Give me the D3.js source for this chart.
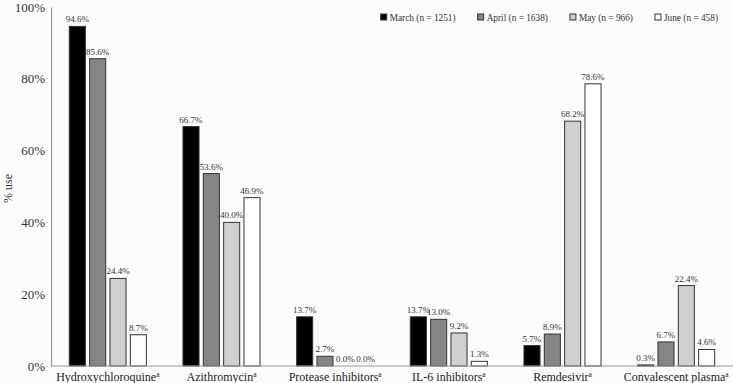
<!DOCTYPE html>
<html>
<head>
<meta charset="utf-8">
<script src="https://cdn.jsdelivr.net/npm/d3@7"></script>
<style>
  body { margin: 0; background: #fcfcfc; }
  svg, svg text { font-family: 'Liberation Serif', 'Times New Roman', Times, serif; }
</style>
</head>
<body>
<svg id="chart" width="733" height="383"></svg>
<script>
// Drug use by month, % of patients
var drugs = ['Hydroxychloroquine', 'Azithromycin', 'Protease inhibitors', 'IL-6 inhibitors', 'Remdesivir', 'Convalescent plasma'];
var months = ['March (n = 1251)', 'April (n = 1638)', 'May (n = 966)', 'June (n = 458)'];
var march = [94.6, 66.7, 13.7, 13.7, 5.7, 0.3];
var april = [85.6, 53.6, 2.7, 13.0, 8.9, 6.7];
var may = [24.4, 40.0, 0.0, 9.2, 68.2, 22.4];
var june = [8.7, 46.9, 0.0, 1.3, 78.6, 4.6];
var yTicks = [0, 20, 40, 60, 80, 100];

var series = [march, april, may, june];
var fills = ['#000000', '#858585', '#d0d0d0', '#ffffff'];

var svg = d3.select('#chart');
var margin = { left: 51, right: 0, top: 7, bottom: 17 };
var W = 733, H = 383;

svg.append('rect').attr('width', W).attr('height', H).attr('fill', '#fcfcfc');

var x0 = d3.scaleBand()
    .domain(drugs)
    .range([margin.left, W - margin.right])
    .paddingInner(0);

var x1 = d3.scaleBand()
    .domain(d3.range(months.length))
    .range([0, x0.bandwidth()])
    .paddingInner(0.21)
    .paddingOuter(0.9);

var y = d3.scaleLinear()
    .domain([0, 100])
    .range([H - margin.bottom, margin.top]);

// y axis
var yAxis = svg.append('g')
    .attr('transform', 'translate(' + margin.left + ',0)')
    .call(d3.axisLeft(y).tickValues(yTicks).tickSize(0).tickPadding(6).tickFormat(function (d) { return d + '%'; }));
yAxis.attr('font-family', null);
yAxis.select('.domain').attr('stroke', '#999').attr('stroke-width', 1.2);
yAxis.selectAll('text')
    .attr('font-size', 13)
    .attr('fill', '#333');

svg.append('text')
    .attr('transform', 'translate(12,' + (y(50) + 2) + ') rotate(-90)')
    .attr('text-anchor', 'middle')
    .attr('font-size', 12)
    .attr('fill', '#333')
    .text('% use');

// bars
var groups = svg.append('g').selectAll('g')
    .data(drugs)
    .enter()
    .append('g')
    .attr('transform', function (d) { return 'translate(' + x0(d) + ',0)'; });

groups.selectAll('rect')
    .data(function (d, i) { return series.map(function (s, j) { return { k: j, v: s[i] }; }); })
    .enter()
    .append('rect')
    .attr('x', function (d) { return x1(d.k); })
    .attr('y', function (d) { return y(d.v); })
    .attr('width', x1.bandwidth())
    .attr('height', function (d) { return y(0) - y(d.v); })
    .attr('fill', function (d) { return fills[d.k]; })
    .attr('stroke', '#333')
    .attr('stroke-width', 1);

groups.selectAll('text')
    .data(function (d, i) { return series.map(function (s, j) { return { k: j, v: s[i] }; }); })
    .enter()
    .append('text')
    .attr('x', function (d) { return x1(d.k) + x1.bandwidth() / 2; })
    .attr('y', function (d) { return y(d.v) - 4; })
    .attr('text-anchor', 'middle')
    .attr('font-size', 9)
    .attr('fill', '#333')
    .text(function (d) { return d.v.toFixed(1) + '%'; });

// x axis line
svg.append('line')
    .attr('x1', margin.left).attr('x2', W)
    .attr('y1', y(0)).attr('y2', y(0))
    .attr('stroke', '#999').attr('stroke-width', 1.2);

// category labels with superscript a
var cat = svg.append('g').selectAll('text')
    .data(drugs)
    .enter()
    .append('text')
    .attr('x', function (d) { return x0(d) + x0.bandwidth() / 2; })
    .attr('y', 381)
    .attr('text-anchor', 'middle')
    .attr('font-size', 12)
    .attr('fill', '#222');
cat.append('tspan').text(function (d) { return d; });
cat.append('tspan').attr('font-size', 7.5).attr('dy', -4).text('a');

// legend, laid out right to left so it ends near x = 718
var legend = svg.append('g');
var items = months.map(function (m, i) {
    var item = legend.append('g');
    item.append('rect')
        .attr('width', 6).attr('height', 6)
        .attr('fill', fills[i]).attr('stroke', '#333').attr('stroke-width', 1);
    var t = item.append('text')
        .attr('x', 9).attr('y', 6.5)
        .attr('font-size', 9.3)
        .attr('fill', '#333')
        .text(m);
    return { g: item, w: 9 + t.node().getComputedTextLength() };
});
var lx = 718 - d3.sum(items, function (d) { return d.w; }) - 22 * (items.length - 1);
items.forEach(function (d) {
    d.g.attr('transform', 'translate(' + lx + ',14)');
    lx += d.w + 22;
});
</script>
</body>
</html>
